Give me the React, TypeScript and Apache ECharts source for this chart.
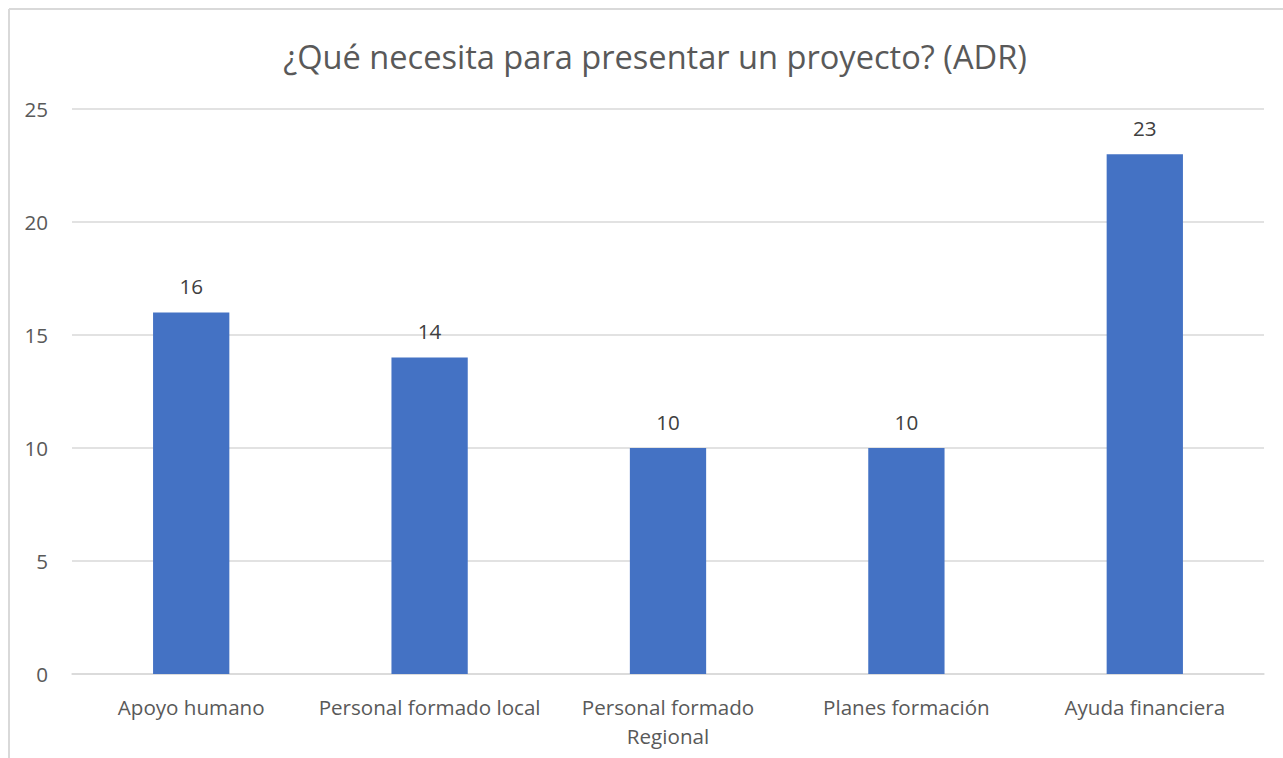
import React, { useEffect, useRef } from "react";
import * as echarts from "echarts";

const titleText = "¿Qué necesita para presentar un proyecto? (ADR)";
const categories = [
  "Apoyo humano",
  "Personal formado local",
  "Personal formado\nRegional",
  "Planes formación",
  "Ayuda financiera",
];
const values = [16, 14, 10, 10, 23];
const yTicks = { min: 0, max: 25, interval: 5 };

const FONT = "'Open Sans', 'Noto Sans', sans-serif";

export default function App() {
  const ref = useRef<HTMLDivElement>(null);
  useEffect(() => {
    if (!ref.current) return;
    const chart = echarts.init(ref.current, null, { renderer: "svg" });
    chart.setOption({
      animation: false,
      backgroundColor: "#ffffff",
      textStyle: { fontFamily: FONT },
      title: {
        text: titleText,
        left: 650,
        top: 35,
        textAlign: "center",
        textStyle: {
          fontFamily: FONT,
          fontSize: 32.6,
          fontWeight: "normal",
          color: "#595959",
        },
      },
      graphic: [
        {
          type: "line",
          shape: { x1: 9, y1: 9, x2: 1283, y2: 9 },
          style: { stroke: "#D9D9D9", lineWidth: 2 },
        },
        {
          type: "line",
          shape: { x1: 9, y1: 9, x2: 9, y2: 758 },
          style: { stroke: "#D9D9D9", lineWidth: 2 },
        },
      ],
      grid: { left: 72, right: 19, top: 109, bottom: 84, containLabel: false },
      xAxis: {
        type: "category",
        data: categories,
        axisLine: { lineStyle: { color: "#D9D9D9", width: 1.5 } },
        axisTick: { show: false },
        axisLabel: {
          color: "#595959",
          fontSize: 20.6,
          fontFamily: FONT,
          lineHeight: 29,
          margin: 18,
          interval: 0,
        },
      },
      yAxis: {
        type: "value",
        min: yTicks.min,
        max: yTicks.max,
        interval: yTicks.interval,
        axisLine: { show: false },
        axisTick: { show: false },
        splitLine: { lineStyle: { color: "#D9D9D9", width: 1.5 } },
        axisLabel: {
          color: "#595959",
          fontSize: 20.6,
          fontFamily: FONT,
          margin: 24,
        },
      },
      series: [
        {
          type: "bar",
          data: values,
          barWidth: "32%",
          itemStyle: { color: "#4472C4" },
          label: {
            show: true,
            position: "top",
            distance: 16,
            color: "#404040",
            fontSize: 20.6,
            fontFamily: FONT,
          },
        },
      ],
    });
    return () => chart.dispose();
  }, []);
  return (
    <div
      ref={ref}
      style={{ position: "fixed", left: 0, top: 0, width: 1283, height: 758 }}
    />
  );
}
